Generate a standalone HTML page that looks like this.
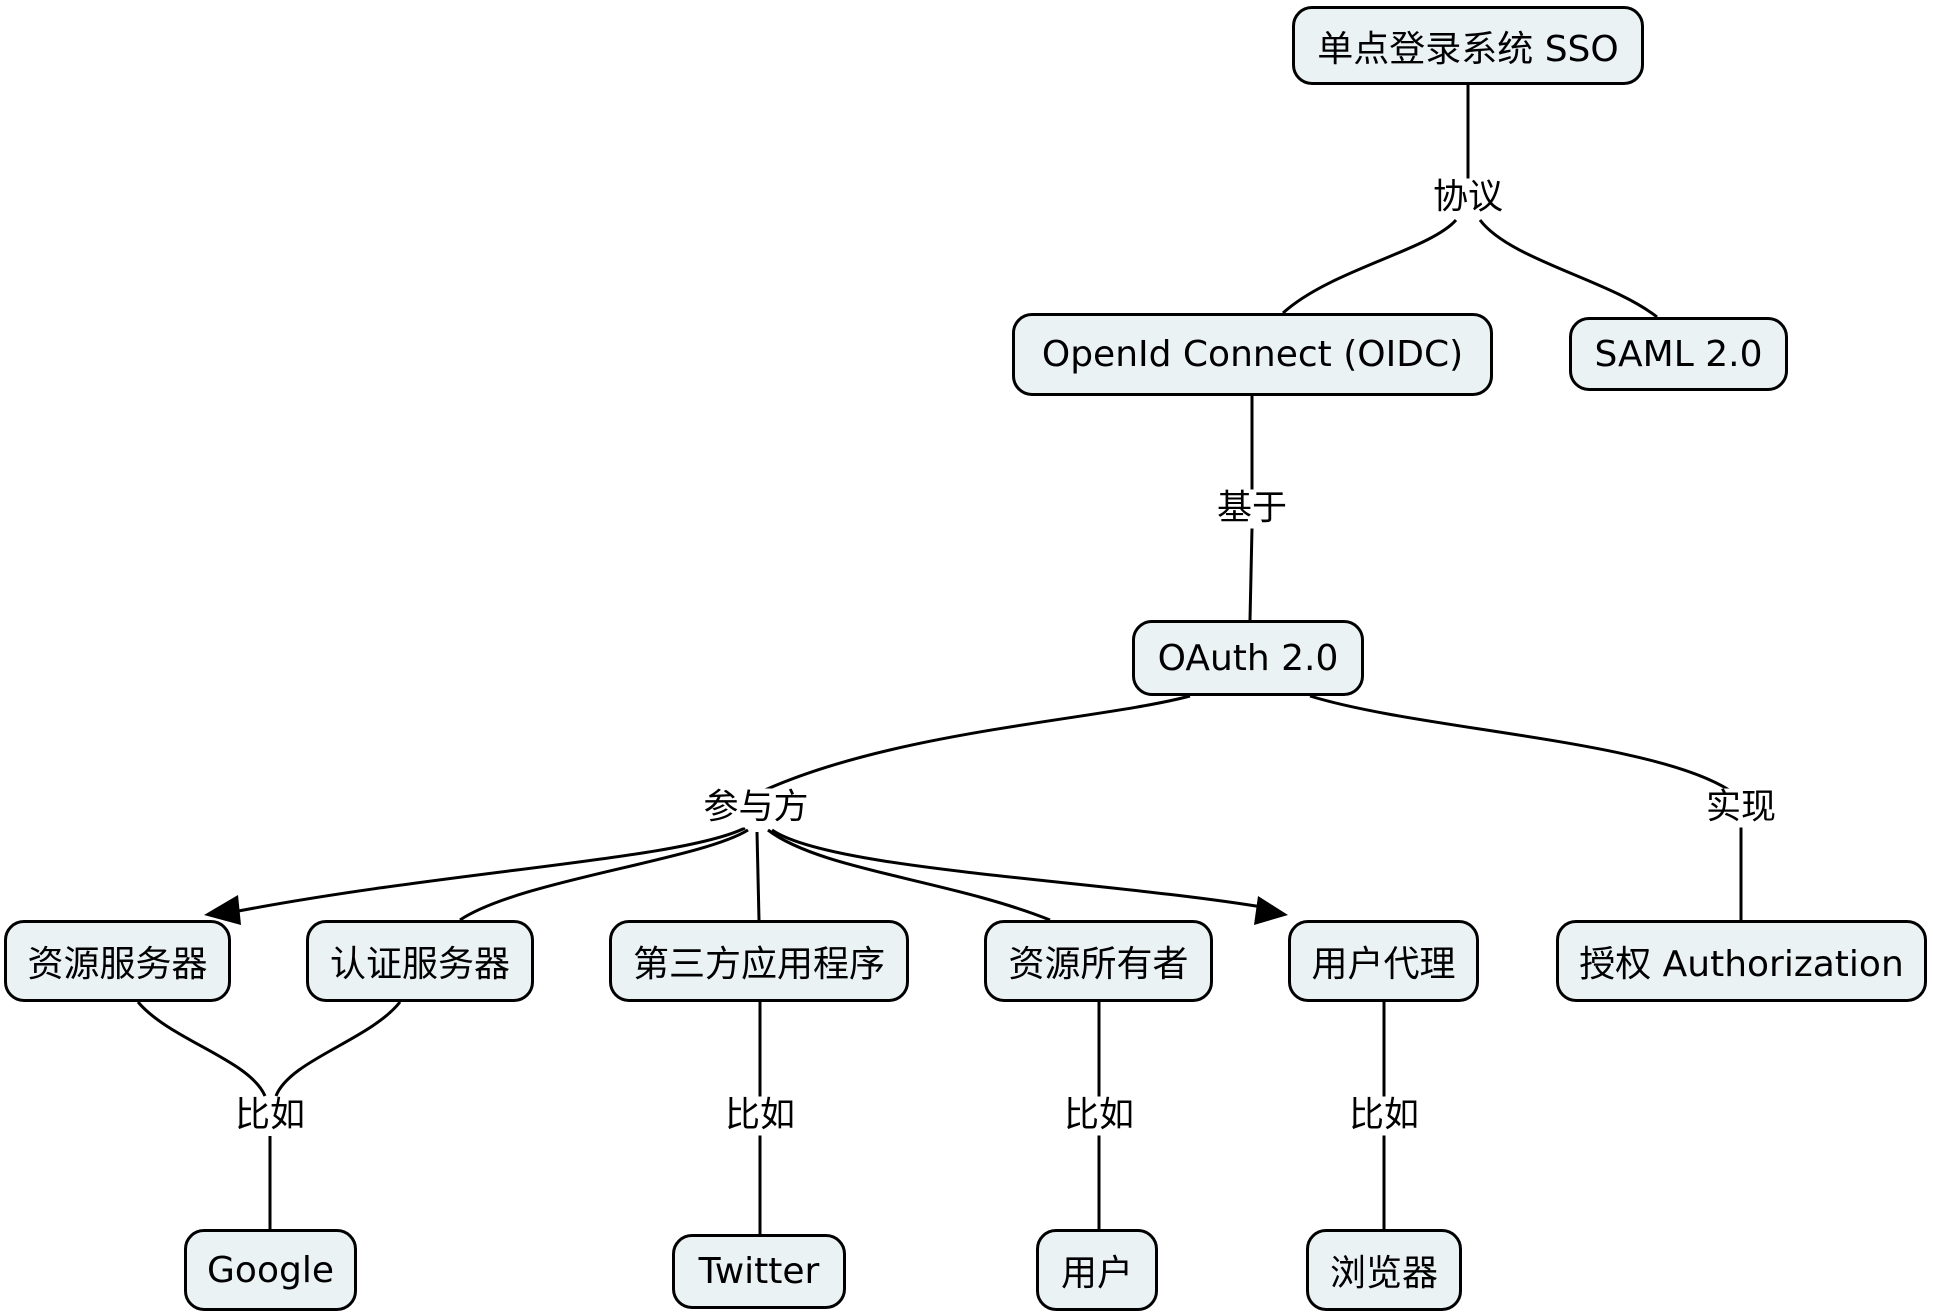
<!DOCTYPE html>
<html><head><meta charset="utf-8"><style>
body{margin:0;background:#fff;width:1933px;height:1315px;overflow:hidden;position:relative;font-family:"DejaVu Sans","Noto Sans CJK SC",sans-serif;}
svg{position:absolute;left:0;top:0}
.n{position:absolute;box-sizing:border-box;border:3px solid #000;border-radius:20px;background:#ebf2f4;display:flex;align-items:center;justify-content:center;font-size:36px;color:#000;white-space:nowrap}
.l{position:absolute;transform:translate(-50%,-50%);font-size:35px;background:#fff;padding:2px 4px;white-space:nowrap;line-height:1}
</style></head><body>
<svg width="1933" height="1315" viewBox="0 0 1933 1315" fill="none" stroke="#000" stroke-width="3">
<line x1="1468" y1="85" x2="1468" y2="180"/>
<path d="M1456 220 C1430 250,1330 270,1283 313"/>
<path d="M1480 220 C1510 260,1610 280,1657 317"/>
<line x1="1252" y1="396" x2="1252" y2="490"/>
<path d="M1252 528 L1250 620"/>
<path d="M1190 696 C1100 720,900 730,765 790"/>
<path d="M1310 696 C1420 730,1650 740,1729 790"/>
<line x1="1741" y1="826" x2="1741" y2="920"/>
<path d="M745 828 C680 860,450 870,228 913"/>
<path d="M748 830 C700 860,520 880,460 920"/>
<line x1="757" y1="832" x2="759" y2="920"/>
<path d="M768 830 C820 870,950 880,1050 920"/>
<path d="M772 830 C830 870,1100 880,1268 908"/>
<path d="M138 1002 C170 1040,250 1060,265 1096"/>
<path d="M400 1002 C370 1040,290 1060,276 1096"/>
<line x1="270" y1="1136" x2="270" y2="1229"/>
<line x1="760" y1="1002" x2="760" y2="1234"/>
<line x1="1099" y1="1002" x2="1099" y2="1229"/>
<line x1="1384" y1="1002" x2="1384" y2="1229"/>
<polygon points="204,915 238,895 241,925" fill="#000" stroke="none"/>
<polygon points="1288,915 1258,896 1254,925" fill="#000" stroke="none"/>
</svg>
<div class="n" style="left:1292px;top:6px;width:352px;height:79px">单点登录系统 SSO</div>
<div class="n" style="left:1012px;top:313px;width:481px;height:83px">OpenId Connect (OIDC)</div>
<div class="n" style="left:1569px;top:317px;width:219px;height:74px">SAML 2.0</div>
<div class="n" style="left:1132px;top:620px;width:232px;height:76px">OAuth 2.0</div>
<div class="n" style="left:4px;top:920px;width:227px;height:82px">资源服务器</div>
<div class="n" style="left:306px;top:920px;width:228px;height:82px">认证服务器</div>
<div class="n" style="left:609px;top:920px;width:300px;height:82px">第三方应用程序</div>
<div class="n" style="left:984px;top:920px;width:229px;height:82px">资源所有者</div>
<div class="n" style="left:1288px;top:920px;width:191px;height:82px">用户代理</div>
<div class="n" style="left:1556px;top:920px;width:371px;height:82px">授权 Authorization</div>
<div class="n" style="left:184px;top:1229px;width:173px;height:82px">Google</div>
<div class="n" style="left:672px;top:1234px;width:174px;height:75px">Twitter</div>
<div class="n" style="left:1036px;top:1229px;width:122px;height:82px">用户</div>
<div class="n" style="left:1306px;top:1229px;width:156px;height:82px">浏览器</div>
<div class="l" style="left:1468px;top:198px">协议</div>
<div class="l" style="left:1252px;top:509px">基于</div>
<div class="l" style="left:756px;top:808px">参与方</div>
<div class="l" style="left:1741px;top:808px">实现</div>
<div class="l" style="left:270px;top:1116px">比如</div>
<div class="l" style="left:760px;top:1116px">比如</div>
<div class="l" style="left:1099px;top:1116px">比如</div>
<div class="l" style="left:1384px;top:1116px">比如</div>
</body></html>
